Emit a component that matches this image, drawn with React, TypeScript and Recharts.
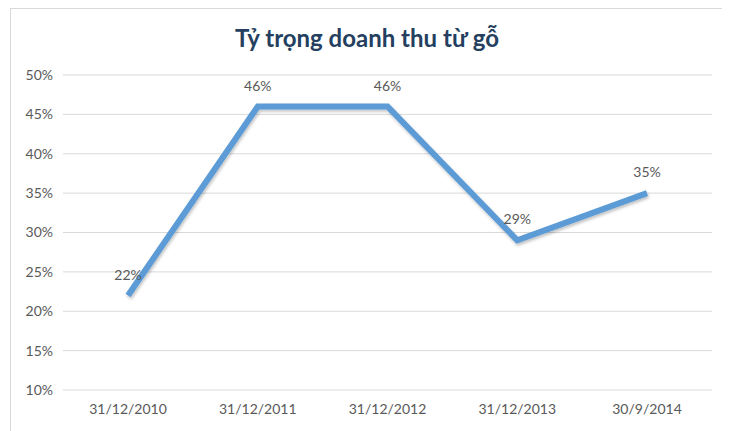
import React from 'react';
import { LineChart, Line, XAxis, YAxis, CartesianGrid, LabelList } from 'recharts';

const periods = ['31/12/2010', '31/12/2011', '31/12/2012', '31/12/2013', '30/9/2014'];
const woodShare = [0.22, 0.46, 0.46, 0.29, 0.35];
const yTicks = [0.1, 0.15, 0.2, 0.25, 0.3, 0.35, 0.4, 0.45, 0.5];

const data = periods.map((period, i) => ({ period, share: woodShare[i] }));

const pct = (v: number) => `${Math.round(v * 100)}%`;
const FONT = 'Lato, "Open Sans", sans-serif';

export default function App() {
  return (
    <div
      style={{
        position: 'relative',
        width: 712,
        height: 422,
        marginLeft: 2,
        border: '1px solid #d9d9d9',
        background: '#fff',
        fontFamily: FONT,
      }}
    >
      {/* tiêu đề biểu đồ */}
      <div
        style={{
          position: 'absolute',
          top: 14,
          left: 0,
          width: '100%',
          textAlign: 'center',
          fontSize: 24,
          fontWeight: 700,
          color: '#243f60',
        }}
      >
        Tỷ trọng doanh thu từ gỗ
      </div>
      <LineChart width={712} height={420} data={data} margin={{ top: 66, right: 11, bottom: 9, left: 0 }}>
        <defs>
          <filter id="lineShadow" x="-10%" y="-10%" width="120%" height="130%">
            <feDropShadow dx="1" dy="2" stdDeviation="1.5" floodColor="#000" floodOpacity="0.25" />
          </filter>
        </defs>
        <CartesianGrid vertical={false} stroke="#d9d9d9" />
        <XAxis
          dataKey="period"
          axisLine={false}
          tickLine={false}
          padding={{ left: 65, right: 65 }}
          tickMargin={8}
          height={30}
          tick={{ fill: '#595959', fontSize: 14, fontFamily: FONT }}
        />
        <YAxis
          domain={[0.1, 0.5]}
          ticks={yTicks}
          tickFormatter={pct}
          axisLine={false}
          tickLine={false}
          tickMargin={4}
          width={52}
          tick={{ fill: '#595959', fontSize: 14, fontFamily: FONT }}
        />
        <Line
          type="linear"
          dataKey="share"
          stroke="#5b9bd5"
          strokeWidth={6}
          dot={false}
          filter="url(#lineShadow)"
          isAnimationActive={false}
        >
          <LabelList dataKey="share" position="top" offset={16} formatter={(v: number) => pct(v)} fill="#595959" fontSize={14} fontFamily={FONT} />
        </Line>
      </LineChart>
    </div>
  );
}
